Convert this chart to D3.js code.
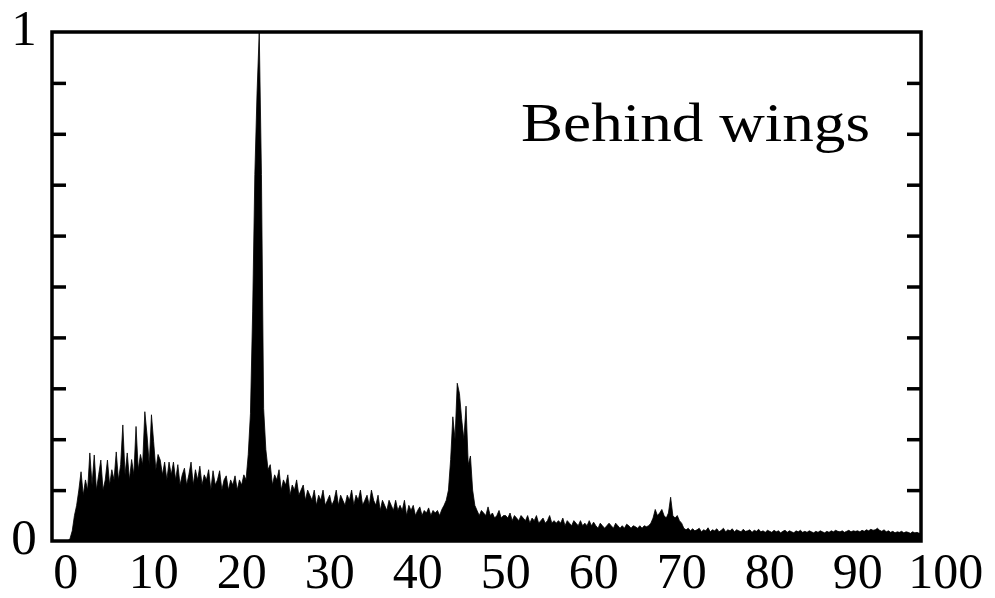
<!DOCTYPE html>
<html>
<head>
<meta charset="utf-8">
<script src="https://cdn.jsdelivr.net/npm/d3@7/dist/d3.min.js"></script>
<style>
  html, body { margin: 0; padding: 0; background: #fff; overflow: hidden; }
  svg { display: block; }
</style>
</head>
<body>
<svg id="chart" width="995" height="598"></svg>
<script>
// Normalised amplitude spectrum, sampled every 0.25 Hz starting at 0 Hz
const freqStep = 0.25;
const amplitude = [
  0, 0, 0.005, 0.02, 0.05, 0.07, 0.10, 0.136,
  0.09, 0.12, 0.10, 0.173, 0.11, 0.169, 0.10, 0.13,
  0.159, 0.10, 0.12, 0.159, 0.11, 0.14, 0.12, 0.175,
  0.12, 0.15, 0.228, 0.13, 0.173, 0.12, 0.16, 0.13,
  0.225, 0.14, 0.17, 0.15, 0.254, 0.208, 0.15, 0.248,
  0.195, 0.14, 0.17, 0.159, 0.13, 0.155, 0.12, 0.155,
  0.13, 0.155, 0.12, 0.15, 0.11, 0.13, 0.143, 0.11,
  0.13, 0.155, 0.11, 0.14, 0.12, 0.147, 0.11, 0.13,
  0.12, 0.14, 0.10, 0.138, 0.11, 0.12, 0.138, 0.10,
  0.12, 0.128, 0.10, 0.12, 0.11, 0.128, 0.10, 0.12,
  0.11, 0.13, 0.12, 0.17, 0.25, 0.45, 0.72, 0.88,
  1.0, 0.72, 0.26, 0.18, 0.14, 0.15, 0.11, 0.13,
  0.12, 0.14, 0.10, 0.12, 0.11, 0.13, 0.09, 0.11,
  0.10, 0.12, 0.09, 0.10, 0.11, 0.08, 0.10, 0.09,
  0.08, 0.10, 0.07, 0.09, 0.08, 0.10, 0.07, 0.08,
  0.09, 0.07, 0.08, 0.10, 0.07, 0.09, 0.08, 0.07,
  0.09, 0.08, 0.10, 0.07, 0.09, 0.08, 0.10, 0.07,
  0.08, 0.09, 0.07, 0.10, 0.08, 0.07, 0.09, 0.06,
  0.08, 0.07, 0.06, 0.08, 0.07, 0.06, 0.08, 0.06,
  0.07, 0.06, 0.08, 0.05, 0.07, 0.06, 0.07, 0.05,
  0.06, 0.067, 0.05, 0.06, 0.055, 0.065, 0.05, 0.06,
  0.055, 0.06, 0.05, 0.062, 0.07, 0.08, 0.10, 0.16,
  0.244, 0.20, 0.31, 0.29, 0.24, 0.20, 0.265, 0.15,
  0.167, 0.10, 0.07, 0.06, 0.05, 0.06, 0.055, 0.05,
  0.067, 0.05, 0.055, 0.045, 0.05, 0.06, 0.045, 0.05,
  0.05, 0.045, 0.055, 0.04, 0.05, 0.045, 0.04, 0.05,
  0.045, 0.04, 0.05, 0.035, 0.045, 0.04, 0.05, 0.035,
  0.04, 0.045, 0.035, 0.04, 0.05, 0.035, 0.04, 0.035,
  0.04, 0.035, 0.045, 0.03, 0.04, 0.035, 0.03, 0.04,
  0.035, 0.03, 0.04, 0.03, 0.035, 0.03, 0.04, 0.03,
  0.037, 0.03, 0.025, 0.035, 0.03, 0.025, 0.03, 0.035,
  0.03, 0.025, 0.035, 0.03, 0.025, 0.03, 0.025, 0.033,
  0.03, 0.025, 0.03, 0.028, 0.025, 0.03, 0.025, 0.03,
  0.028, 0.03, 0.035, 0.045, 0.062, 0.05, 0.055, 0.062,
  0.05, 0.045, 0.055, 0.086, 0.05, 0.045, 0.05, 0.04,
  0.035, 0.025, 0.022, 0.025, 0.02, 0.024, 0.02, 0.022,
  0.025, 0.018, 0.022, 0.02, 0.026, 0.018, 0.022, 0.02,
  0.024, 0.018, 0.021, 0.025, 0.018, 0.022, 0.02, 0.024,
  0.018, 0.022, 0.02, 0.018, 0.023, 0.019, 0.02, 0.022,
  0.017, 0.021, 0.019, 0.023, 0.018, 0.02, 0.017, 0.021,
  0.019, 0.017, 0.021, 0.018, 0.02, 0.016, 0.019, 0.021,
  0.017, 0.02, 0.018, 0.016, 0.02, 0.018, 0.021, 0.017,
  0.019, 0.017, 0.02, 0.018, 0.016, 0.019, 0.017, 0.02,
  0.018, 0.016, 0.019, 0.017, 0.02, 0.018, 0.021, 0.019,
  0.018, 0.02, 0.017, 0.019, 0.021, 0.018, 0.02, 0.019,
  0.02, 0.018, 0.021, 0.019, 0.022, 0.02, 0.023, 0.021,
  0.022, 0.025, 0.021, 0.019, 0.022, 0.018, 0.02, 0.017,
  0.019, 0.016, 0.018, 0.017, 0.019, 0.016, 0.018, 0.017,
  0.015, 0.018, 0.016, 0.017, 0.015, 0.017, 0.016, 0.015
];
const xTickValues = [0, 10, 20, 30, 40, 50, 60, 70, 80, 90, 100];
const yTickValues = [0.1, 0.2, 0.3, 0.4, 0.5, 0.6, 0.7, 0.8, 0.9];
const yEndLabels = [{ v: 1, t: "1" }, { v: 0, t: "0" }];
const panelTitle = "Behind wings";

const serif = "'Liberation Serif', 'Times New Roman', Tinos, Times, serif";
const svg = d3.select("#chart");
const frame = { left: 52, right: 921, top: 32, bottom: 541 };

const x = d3.scaleLinear().domain([-1.55, 97.2]).range([frame.left, frame.right]);
const y = d3.scaleLinear().domain([0, 1]).range([frame.bottom, frame.top]);

const points = amplitude.map((a, i) => ({ f: i * freqStep, a }));

svg.append("clipPath").attr("id", "plotClip")
  .append("rect")
  .attr("x", frame.left).attr("y", frame.top - 2)
  .attr("width", frame.right - frame.left).attr("height", frame.bottom - frame.top + 2);

const area = d3.area()
  .x(d => x(d.f))
  .y0(y(0))
  .y1(d => y(d.a))
  .curve(d3.curveLinear);

const line = d3.line().x(d => x(d.f)).y(d => y(d.a)).curve(d3.curveLinear);

const plot = svg.append("g").attr("clip-path", "url(#plotClip)");
plot.append("path").datum(points).attr("d", area).attr("fill", "#000");
plot.append("path").datum(points).attr("d", line)
  .attr("fill", "none").attr("stroke", "#000").attr("stroke-width", 0.8);

// inward ticks on both vertical sides
const leftAxis = d3.axisRight(y).tickValues(yTickValues).tickSize(14).tickFormat("");
const rightAxis = d3.axisLeft(y).tickValues(yTickValues).tickSize(14).tickFormat("");
svg.append("g").attr("transform", `translate(${frame.left},0)`).call(leftAxis)
  .call(g => g.select(".domain").remove())
  .selectAll("line").attr("stroke", "#000").attr("stroke-width", 3.5);
svg.append("g").attr("transform", `translate(${frame.right},0)`).call(rightAxis)
  .call(g => g.select(".domain").remove())
  .selectAll("line").attr("stroke", "#000").attr("stroke-width", 3.5);

// frame
svg.append("rect")
  .attr("x", frame.left).attr("y", frame.top)
  .attr("width", frame.right - frame.left).attr("height", frame.bottom - frame.top)
  .attr("fill", "none").attr("stroke", "#000").attr("stroke-width", 3.5);

// x labels
svg.append("g").selectAll("text").data(xTickValues).join("text")
  .attr("x", d => x(d))
  .attr("y", 588)
  .attr("text-anchor", "middle")
  .attr("font-family", serif)
  .attr("font-size", 50)
  .attr("fill", "#000")
  .text(d => d);

// y end labels
svg.append("g").selectAll("text").data(yEndLabels).join("text")
  .attr("x", 24)
  .attr("y", d => y(d.v) + (d.v === 1 ? 13 : 13))
  .attr("text-anchor", "middle")
  .attr("font-family", serif)
  .attr("font-size", 51)
  .attr("fill", "#000")
  .text(d => d.t);

svg.append("text")
  .attr("x", 521).attr("y", 141)
  .attr("font-family", serif)
  .attr("font-size", 54)
  .attr("fill", "#000")
  .attr("textLength", 349)
  .attr("lengthAdjust", "spacingAndGlyphs")
  .text(panelTitle);
</script>
</body>
</html>
